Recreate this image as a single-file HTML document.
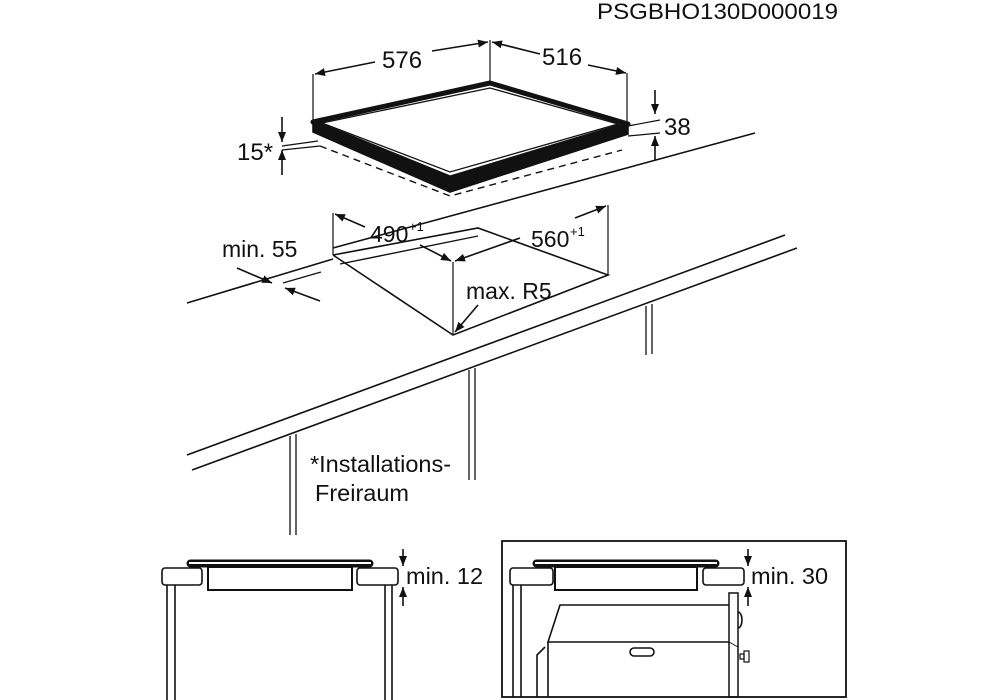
<!DOCTYPE html>
<html><head><meta charset="utf-8"><style>
html,body{margin:0;padding:0;background:#fff;}
svg{display:block;}
text{font-family:"Liberation Sans",Arial,sans-serif;fill:#111;}
</style></head><body>
<svg width="998" height="700" viewBox="0 0 998 700" xmlns="http://www.w3.org/2000/svg">
<defs>
<marker id="a" viewBox="0 0 10 10" refX="10" refY="5" markerWidth="10" markerHeight="10" orient="auto-start-reverse" markerUnits="userSpaceOnUse"><path d="M0,1 L10,5 L0,9 Z" fill="#111"/></marker>
</defs>
<g stroke="#111" fill="none" stroke-width="1.6">
<text x="597" y="19" font-size="22" stroke="none" textLength="241" lengthAdjust="spacingAndGlyphs">PSGBHO130D000019</text>

<!-- hob -->
<polygon points="313,122 450,178 628,124 628,134 450,192 313,132" fill="#111"/>
<polygon points="313,122 490,83 628,124 450,178" fill="#fff" stroke-width="5" stroke-linejoin="round"/>
<polygon points="322,123 490,88 618,124 450,172" stroke-width="1.3"/>
<polyline points="320,146 450,196 622,150" stroke-dasharray="7,5" stroke-width="1.4"/>
<!-- dims top -->
<line x1="313" y1="74" x2="313" y2="122" stroke-width="1.2"/>
<line x1="490" y1="40" x2="490" y2="83" stroke-width="1.2"/>
<line x1="627" y1="73" x2="627" y2="122" stroke-width="1.2"/>
<line x1="375" y1="62" x2="315" y2="74" marker-end="url(#a)"/>
<line x1="432" y1="51" x2="488" y2="42" marker-end="url(#a)"/>
<line x1="540" y1="54" x2="492" y2="42" marker-end="url(#a)"/>
<line x1="588" y1="65" x2="626" y2="73" marker-end="url(#a)"/>
<text x="382" y="68" font-size="24" stroke="none">576</text>
<text x="542" y="65" font-size="24" stroke="none">516</text>
<!-- 38 -->
<line x1="655" y1="90" x2="655" y2="114" marker-end="url(#a)"/>
<line x1="655" y1="160" x2="655" y2="136" marker-end="url(#a)"/>
<line x1="628" y1="126" x2="660" y2="120" stroke-width="1.2"/>
<line x1="628" y1="136" x2="660" y2="133" stroke-width="1.2"/>
<text x="664" y="135" font-size="24" stroke="none">38</text>
<!-- 15* -->
<line x1="282" y1="117" x2="282" y2="142" marker-end="url(#a)"/>
<line x1="282" y1="175" x2="282" y2="150" marker-end="url(#a)"/>
<line x1="282" y1="146" x2="318" y2="141" stroke-width="1.2"/>
<line x1="282" y1="150" x2="320" y2="146" stroke-width="1.2"/>
<text x="237" y="160" font-size="24" stroke="none">15*</text>

<!-- countertop -->
<line x1="187" y1="303" x2="333" y2="259"/>
<line x1="333" y1="248" x2="755" y2="133"/>
<line x1="187" y1="455" x2="785" y2="235"/>
<line x1="192" y1="470" x2="797" y2="248"/>
<!-- cutout -->
<polyline points="333,255 478,228 608,275 453,335 333,255"/>
<polyline points="340,264 478,236" stroke-width="1.4"/>
<line x1="333" y1="213" x2="333" y2="255" stroke-width="1.2"/>
<line x1="608" y1="205" x2="608" y2="275" stroke-width="1.2"/>
<line x1="453" y1="262" x2="453" y2="335" stroke-width="1.2"/>
<line x1="365" y1="227" x2="335" y2="214" marker-end="url(#a)"/>
<line x1="420" y1="245" x2="451" y2="261" marker-end="url(#a)"/>
<line x1="520" y1="238" x2="455" y2="261" marker-end="url(#a)"/>
<line x1="575" y1="218" x2="606" y2="206" marker-end="url(#a)"/>
<text x="370" y="242" font-size="23" stroke="none">490</text>
<text x="409" y="231" font-size="13" stroke="none">+1</text>
<text x="531" y="247" font-size="23" stroke="none">560</text>
<text x="570" y="236" font-size="13" stroke="none">+1</text>
<text x="466" y="299" font-size="23" stroke="none">max. R5</text>
<line x1="478" y1="305" x2="455" y2="332" marker-end="url(#a)"/>
<!-- min 55 -->
<text x="222" y="257" font-size="23" stroke="none">min. 55</text>
<line x1="237" y1="268" x2="272" y2="283" marker-end="url(#a)"/>
<line x1="320" y1="301" x2="285" y2="288" marker-end="url(#a)"/>
<line x1="283" y1="283" x2="321" y2="272" stroke-width="1.2"/>
<!-- legs -->
<line x1="646" y1="306" x2="646" y2="355" stroke-width="1.3"/>
<line x1="652" y1="304" x2="652" y2="354" stroke-width="1.3"/>
<line x1="469" y1="370" x2="469" y2="480" stroke-width="1.3"/>
<line x1="475" y1="368" x2="475" y2="480" stroke-width="1.3"/>
<line x1="290" y1="436" x2="290" y2="535" stroke-width="1.3"/>
<line x1="296" y1="434" x2="296" y2="535" stroke-width="1.3"/>
<text x="310" y="472" font-size="23.5" stroke="none">*Installations-</text>
<text x="315" y="501" font-size="23.5" stroke="none">Freiraum</text>

<!-- bottom left -->
<rect x="162" y="568" width="40" height="17" rx="3"/>
<rect x="357" y="568" width="41" height="17" rx="3"/>
<rect x="208" y="567" width="144" height="23" stroke-width="2"/>
<rect x="187" y="560" width="186" height="7" rx="3.5" fill="#111" stroke-width="1"/>
<rect x="189" y="562" width="182" height="2" fill="#fff" stroke="none"/>
<line x1="167" y1="585" x2="167" y2="700"/><line x1="175" y1="585" x2="175" y2="700"/>
<line x1="385" y1="585" x2="385" y2="700"/><line x1="392" y1="585" x2="392" y2="700"/>
<line x1="403" y1="549" x2="403" y2="566" marker-end="url(#a)"/>
<line x1="403" y1="606" x2="403" y2="587" marker-end="url(#a)"/>
<text x="406" y="584" font-size="23.5" stroke="none">min. 12</text>

<!-- bottom right -->
<rect x="502" y="541" width="344" height="156" stroke-width="1.8"/>
<rect x="510" y="568" width="43" height="17" rx="3"/>
<rect x="703" y="568" width="41" height="17" rx="3"/>
<rect x="555" y="567" width="142" height="23" stroke-width="2"/>
<rect x="533" y="560" width="186" height="7" rx="3.5" fill="#111" stroke-width="1"/>
<rect x="535" y="562" width="182" height="2" fill="#fff" stroke="none"/>
<line x1="513" y1="585" x2="513" y2="697"/><line x1="521" y1="585" x2="521" y2="697"/>
<line x1="748" y1="549" x2="748" y2="566" marker-end="url(#a)"/>
<line x1="748" y1="606" x2="748" y2="587" marker-end="url(#a)"/>
<text x="751" y="584" font-size="23.5" stroke="none">min. 30</text>
<!-- oven -->
<polyline points="729,605 560,605 548,642 729,642"/>
<polyline points="545,647 537,655 537,697"/>
<line x1="548" y1="642" x2="548" y2="697"/>
<rect x="729" y="593" width="9" height="104" stroke-width="1.5"/>
<line x1="729" y1="642" x2="738" y2="647" stroke-width="1"/>
<path d="M738,612 A4,8 0 0 1 738,628" />
<rect x="740" y="654" width="4" height="5" stroke-width="1.2"/>
<rect x="744" y="651" width="5" height="11" stroke-width="1.2"/>
<rect x="630" y="648" width="24" height="8" rx="4"/>
</g>
</svg>
</body></html>
